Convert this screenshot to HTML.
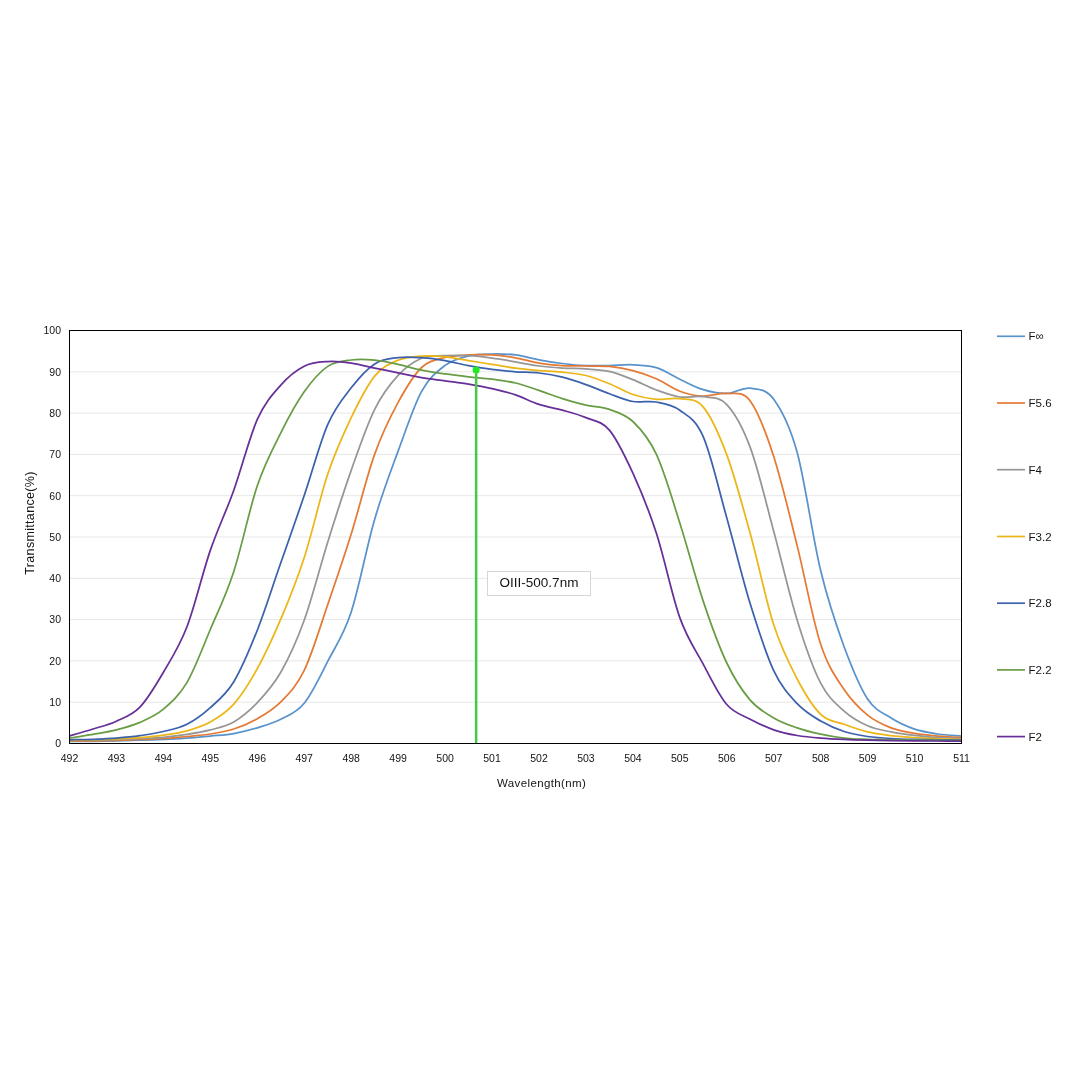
<!DOCTYPE html>
<html lang="en"><head><meta charset="utf-8"><title>OIII filter transmittance</title>
<style>html,body{margin:0;padding:0;background:#fff}body{width:1087px;height:1087px;overflow:hidden}svg{display:block;will-change:transform}text{font-family:"Liberation Sans",sans-serif;fill:#141414}</style></head><body>
<svg width="1087" height="1087" viewBox="0 0 1087 1087">
<defs><clipPath id="pc"><rect x="69.5" y="330.5" width="892.0" height="413.0"/></clipPath></defs>
<g stroke="#e7e7e7" stroke-width="1"><line x1="69.5" y1="702.2" x2="961.5" y2="702.2"/><line x1="69.5" y1="660.9" x2="961.5" y2="660.9"/><line x1="69.5" y1="619.6" x2="961.5" y2="619.6"/><line x1="69.5" y1="578.3" x2="961.5" y2="578.3"/><line x1="69.5" y1="537.0" x2="961.5" y2="537.0"/><line x1="69.5" y1="495.7" x2="961.5" y2="495.7"/><line x1="69.5" y1="454.4" x2="961.5" y2="454.4"/><line x1="69.5" y1="413.1" x2="961.5" y2="413.1"/><line x1="69.5" y1="371.8" x2="961.5" y2="371.8"/></g>
<g fill="none" stroke-width="1.75" stroke-linejoin="round" stroke-linecap="butt" clip-path="url(#pc)">
<path stroke="#5893cb" d="M69.5 741.4C73.4 741.4 85.1 741.4 93.0 741.3C100.8 741.2 108.6 741.0 116.4 740.8C124.3 740.6 132.1 740.4 139.9 740.1C147.7 739.9 155.6 739.7 163.4 739.4C171.2 739.0 179.0 738.7 186.9 738.1C194.7 737.6 202.5 736.8 210.3 736.1C218.2 735.3 226.0 735.0 233.8 733.6C241.6 732.2 249.5 730.2 257.3 727.8C265.1 725.4 272.9 723.4 280.8 719.3C288.6 715.2 296.4 712.9 304.2 703.2C312.1 693.6 319.9 676.7 327.7 661.4C335.5 646.2 343.4 635.6 351.2 611.9C359.0 588.2 366.8 546.0 374.7 519.2C382.5 492.4 390.3 472.4 398.1 451.1C406.0 429.8 413.8 405.6 421.6 391.3C429.4 377.0 437.3 371.3 445.1 365.4C452.9 359.5 460.7 357.8 468.6 355.9C476.4 354.0 484.2 354.2 492.0 354.0C499.9 353.9 507.7 353.9 515.5 354.9C523.3 355.8 531.1 358.4 539.0 359.8C546.8 361.3 554.6 362.6 562.4 363.5C570.3 364.5 578.1 365.3 585.9 365.6C593.7 365.9 601.6 365.7 609.4 365.6C617.2 365.5 625.0 364.4 632.9 364.8C640.7 365.1 648.5 365.3 656.3 367.7C664.2 370.1 672.0 375.5 679.8 379.2C687.6 382.9 695.5 387.4 703.3 389.7C711.1 392.1 718.9 393.7 726.8 393.4C734.6 393.2 742.4 387.3 750.2 388.2C758.1 389.2 765.9 388.5 773.7 399.3C781.5 410.0 789.4 424.0 797.2 452.6C805.0 481.2 812.8 538.5 820.7 570.8C828.5 603.2 836.3 625.3 844.1 646.7C852.0 668.0 859.8 687.2 867.6 699.0C875.4 710.9 883.3 713.0 891.1 718.0C898.9 723.0 906.7 726.4 914.6 729.1C922.4 731.7 930.2 732.8 938.0 734.0C945.9 735.2 957.6 735.7 961.5 736.1"/>
<path stroke="#e57a34" d="M69.5 741.0C73.4 741.0 85.1 741.0 93.0 740.8C100.8 740.7 108.6 740.5 116.4 740.3C124.3 740.1 132.1 739.8 139.9 739.5C147.7 739.2 155.6 739.1 163.4 738.5C171.2 738.0 179.0 737.2 186.9 736.5C194.7 735.7 202.5 735.2 210.3 734.0C218.2 732.8 226.0 731.6 233.8 729.0C241.6 726.5 249.5 723.3 257.3 718.8C265.1 714.3 272.9 710.0 280.8 701.9C288.6 693.8 296.4 686.5 304.2 670.4C312.1 654.2 319.9 627.5 327.7 604.7C335.5 582.0 343.4 559.2 351.2 534.1C359.0 508.9 366.8 476.1 374.7 454.1C382.5 432.2 390.3 416.8 398.1 402.4C406.0 387.9 413.8 374.9 421.6 367.5C429.4 360.0 437.3 359.6 445.1 357.5C452.9 355.4 460.7 355.3 468.6 354.9C476.4 354.4 484.2 354.4 492.0 354.9C499.9 355.4 507.7 356.4 515.5 357.8C523.3 359.1 531.1 361.8 539.0 363.1C546.8 364.4 554.6 365.1 562.4 365.6C570.3 366.1 578.1 365.9 585.9 366.0C593.7 366.2 601.6 365.7 609.4 366.4C617.2 367.2 625.0 368.5 632.9 370.6C640.7 372.6 648.5 375.4 656.3 378.8C664.2 382.3 672.0 388.3 679.8 391.2C687.6 394.1 695.5 395.8 703.3 396.1C711.1 396.5 718.9 392.6 726.8 393.4C734.6 394.3 742.4 390.5 750.2 401.0C758.1 411.5 765.9 432.4 773.7 456.5C781.5 480.7 789.4 514.6 797.2 545.9C805.0 577.2 812.8 620.4 820.7 644.3C828.5 668.2 836.3 677.7 844.1 689.5C852.0 701.3 859.8 708.7 867.6 715.1C875.4 721.5 883.3 724.8 891.1 727.9C898.9 730.9 906.7 732.0 914.6 733.4C922.4 734.7 930.2 735.4 938.0 736.1C945.9 736.8 957.6 737.3 961.5 737.5"/>
<path stroke="#969696" d="M69.5 740.6C73.4 740.6 85.1 740.5 93.0 740.4C100.8 740.2 108.6 740.0 116.4 739.7C124.3 739.4 132.1 739.0 139.9 738.6C147.7 738.2 155.6 738.0 163.4 737.3C171.2 736.6 179.0 735.7 186.9 734.4C194.7 733.2 202.5 731.9 210.3 729.9C218.2 727.8 226.0 726.5 233.8 722.0C241.6 717.4 249.5 710.9 257.3 702.7C265.1 694.4 272.9 686.0 280.8 672.3C288.6 658.5 296.4 642.0 304.2 620.3C312.1 598.6 319.9 567.2 327.7 542.2C335.5 517.2 343.4 492.5 351.2 470.4C359.0 448.2 366.8 425.1 374.7 409.3C382.5 393.5 390.3 383.9 398.1 375.4C406.0 366.9 413.8 361.6 421.6 358.3C429.4 355.0 437.3 356.2 445.1 355.7C452.9 355.3 460.7 355.3 468.6 355.7C476.4 356.1 484.2 357.1 492.0 358.2C499.9 359.2 507.7 360.6 515.5 361.9C523.3 363.2 531.1 365.0 539.0 366.0C546.8 367.1 554.6 367.6 562.4 368.1C570.3 368.6 578.1 368.4 585.9 368.9C593.7 369.5 601.6 369.6 609.4 371.4C617.2 373.2 625.0 376.5 632.9 379.6C640.7 382.7 648.5 387.1 656.3 390.0C664.2 392.9 672.0 395.8 679.8 397.0C687.6 398.1 695.5 395.5 703.3 396.7C711.1 398.0 718.9 396.2 726.8 404.6C734.6 413.0 742.4 426.3 750.2 447.4C758.1 468.5 765.9 502.4 773.7 531.2C781.5 560.0 789.4 594.9 797.2 620.2C805.0 645.5 812.8 668.0 820.7 683.2C828.5 698.3 836.3 703.9 844.1 711.1C852.0 718.2 859.8 722.3 867.6 725.8C875.4 729.3 883.3 730.3 891.1 731.9C898.9 733.5 906.7 734.5 914.6 735.4C922.4 736.4 930.2 737.0 938.0 737.5C945.9 738.0 957.6 738.4 961.5 738.5"/>
<path stroke="#ecb616" d="M69.5 740.2C73.4 740.1 85.1 740.1 93.0 739.9C100.8 739.6 108.6 739.3 116.4 739.0C124.3 738.6 132.1 738.3 139.9 737.7C147.7 737.1 155.6 736.4 163.4 735.2C171.2 734.1 179.0 733.0 186.9 730.8C194.7 728.6 202.5 726.5 210.3 722.0C218.2 717.6 226.0 713.0 233.8 704.2C241.6 695.3 249.5 682.9 257.3 668.7C265.1 654.6 272.9 637.7 280.8 619.2C288.6 600.7 296.4 581.8 304.2 557.7C312.1 533.5 319.9 497.6 327.7 474.3C335.5 450.9 343.4 434.1 351.2 417.7C359.0 401.4 366.8 385.7 374.7 376.1C382.5 366.5 390.3 363.5 398.1 360.2C406.0 356.9 413.8 356.7 421.6 356.1C429.4 355.6 437.3 356.2 445.1 356.9C452.9 357.7 460.7 359.4 468.6 360.6C476.4 361.9 484.2 363.1 492.0 364.4C499.9 365.6 507.7 367.1 515.5 368.1C523.3 369.1 531.1 369.9 539.0 370.6C546.8 371.2 554.6 371.4 562.4 372.2C570.3 373.0 578.1 373.6 585.9 375.5C593.7 377.4 601.6 380.6 609.4 383.8C617.2 386.9 625.0 391.9 632.9 394.5C640.7 397.1 648.5 398.7 656.3 399.4C664.2 400.1 672.0 397.4 679.8 398.7C687.6 399.9 695.5 397.7 703.3 407.1C711.1 416.4 718.9 433.8 726.8 454.9C734.6 476.0 742.4 505.2 750.2 533.5C758.1 561.9 765.9 600.6 773.7 624.8C781.5 649.1 789.4 664.1 797.2 679.0C805.0 693.9 812.8 706.8 820.7 714.3C828.5 721.9 836.3 721.4 844.1 724.3C852.0 727.3 859.8 730.0 867.6 731.9C875.4 733.8 883.3 734.7 891.1 735.7C898.9 736.6 906.7 737.0 914.6 737.5C922.4 738.0 930.2 738.4 938.0 738.8C945.9 739.1 957.6 739.3 961.5 739.4"/>
<path stroke="#3d62ad" d="M69.5 739.8C73.4 739.7 85.1 739.6 93.0 739.3C100.8 739.0 108.6 738.7 116.4 738.1C124.3 737.5 132.1 736.8 139.9 735.7C147.7 734.5 155.6 733.4 163.4 731.5C171.2 729.6 179.0 728.3 186.9 724.3C194.7 720.3 202.5 714.7 210.3 707.6C218.2 700.5 226.0 694.6 233.8 681.7C241.6 668.8 249.5 650.0 257.3 630.2C265.1 610.4 272.9 585.2 280.8 562.8C288.6 540.4 296.4 518.6 304.2 495.5C312.1 472.5 319.9 442.5 327.7 424.6C335.5 406.6 343.4 397.9 351.2 387.8C359.0 377.7 366.8 369.0 374.7 363.9C382.5 358.9 390.3 358.6 398.1 357.6C406.0 356.5 413.8 357.2 421.6 357.7C429.4 358.2 437.3 359.3 445.1 360.7C452.9 362.0 460.7 364.2 468.6 365.6C476.4 367.0 484.2 368.3 492.0 369.3C499.9 370.4 507.7 371.2 515.5 371.8C523.3 372.4 531.1 372.1 539.0 373.0C546.8 373.9 554.6 375.2 562.4 377.2C570.3 379.1 578.1 381.8 585.9 384.6C593.7 387.4 601.6 390.9 609.4 393.7C617.2 396.5 625.0 400.2 632.9 401.5C640.7 402.9 648.5 400.5 656.3 402.0C664.2 403.4 672.0 404.4 679.8 410.2C687.6 416.0 695.5 418.9 703.3 436.9C711.1 454.8 718.9 490.1 726.8 517.9C734.6 545.7 742.4 578.4 750.2 603.8C758.1 629.3 765.9 653.9 773.7 670.6C781.5 687.2 789.4 695.3 797.2 703.7C805.0 712.1 812.8 716.5 820.7 721.1C828.5 725.7 836.3 729.0 844.1 731.5C852.0 734.1 859.8 735.3 867.6 736.5C875.4 737.6 883.3 738.1 891.1 738.5C898.9 739.0 906.7 739.2 914.6 739.4C922.4 739.6 930.2 739.7 938.0 739.8C945.9 739.9 957.6 740.0 961.5 740.0"/>
<path stroke="#699d45" d="M69.5 738.1C73.4 737.5 85.1 735.8 93.0 734.4C100.8 733.0 108.6 731.9 116.4 729.9C124.3 727.9 132.1 725.9 139.9 722.4C147.7 719.0 155.6 715.8 163.4 709.2C171.2 702.5 179.0 695.9 186.9 682.6C194.7 669.4 202.5 648.1 210.3 629.5C218.2 611.0 226.0 595.4 233.8 571.4C241.6 547.4 249.5 508.8 257.3 485.7C265.1 462.6 272.9 448.5 280.8 432.9C288.6 417.2 296.4 402.8 304.2 391.8C312.1 380.7 319.9 371.7 327.7 366.4C335.5 361.1 343.4 361.0 351.2 360.0C359.0 359.0 366.8 359.4 374.7 360.2C382.5 360.9 390.3 362.8 398.1 364.4C406.0 366.1 413.8 368.6 421.6 370.1C429.4 371.7 437.3 372.8 445.1 373.9C452.9 375.0 460.7 375.9 468.6 376.8C476.4 377.7 484.2 378.2 492.0 379.2C499.9 380.3 507.7 381.1 515.5 383.0C523.3 384.8 531.1 387.8 539.0 390.4C546.8 393.0 554.6 396.2 562.4 398.6C570.3 401.1 578.1 403.4 585.9 405.2C593.7 407.0 601.6 406.6 609.4 409.4C617.2 412.1 625.0 414.1 632.9 421.5C640.7 429.0 648.5 437.3 656.3 454.2C664.2 471.1 672.0 498.3 679.8 522.9C687.6 547.4 695.5 578.1 703.3 601.4C711.1 624.8 718.9 646.5 726.8 663.0C734.6 679.4 742.4 691.0 750.2 700.1C758.1 709.3 765.9 713.3 773.7 717.9C781.5 722.5 789.4 725.2 797.2 727.9C805.0 730.7 812.8 732.5 820.7 734.2C828.5 735.9 836.3 737.3 844.1 738.1C852.0 739.0 859.8 739.1 867.6 739.4C875.4 739.7 883.3 739.7 891.1 739.9C898.9 740.0 906.7 740.1 914.6 740.2C922.4 740.3 930.2 740.4 938.0 740.4C945.9 740.5 957.6 740.6 961.5 740.6"/>
<path stroke="#672f98" d="M69.5 735.8C73.4 734.7 85.1 731.5 93.0 729.0C100.8 726.6 108.6 724.8 116.4 721.2C124.3 717.6 132.1 715.4 139.9 707.2C147.7 699.1 155.6 685.7 163.4 672.3C171.2 658.9 179.0 647.3 186.9 627.0C194.7 606.7 202.5 573.2 210.3 550.4C218.2 527.6 226.0 512.0 233.8 490.2C241.6 468.4 249.5 437.0 257.3 419.4C265.1 401.9 272.9 394.0 280.8 385.1C288.6 376.2 296.4 370.1 304.2 366.2C312.1 362.2 319.9 362.1 327.7 361.6C335.5 361.0 343.4 362.0 351.2 363.1C359.0 364.2 366.8 366.5 374.7 368.1C382.5 369.7 390.3 371.2 398.1 372.8C406.0 374.4 413.8 376.2 421.6 377.6C429.4 378.9 437.3 379.8 445.1 380.9C452.9 382.0 460.7 382.9 468.6 384.2C476.4 385.5 484.2 386.9 492.0 388.7C499.9 390.5 507.7 392.3 515.5 394.9C523.3 397.5 531.1 401.9 539.0 404.4C546.8 407.0 554.6 408.0 562.4 410.2C570.3 412.4 578.1 414.3 585.9 417.6C593.7 421.0 601.6 420.8 609.4 430.1C617.2 439.3 625.0 456.0 632.9 473.1C640.7 490.3 648.5 508.9 656.3 533.0C664.2 557.1 672.0 595.7 679.8 617.6C687.6 639.5 695.5 649.8 703.3 664.3C711.1 678.8 718.9 695.4 726.8 704.5C734.6 713.7 742.4 715.0 750.2 719.2C758.1 723.4 765.9 727.1 773.7 729.8C781.5 732.5 789.4 734.1 797.2 735.5C805.0 736.9 812.8 737.5 820.7 738.1C828.5 738.8 836.3 739.1 844.1 739.4C852.0 739.8 859.8 740.0 867.6 740.2C875.4 740.4 883.3 740.5 891.1 740.6C898.9 740.7 906.7 740.7 914.6 740.8C922.4 740.9 930.2 741.0 938.0 741.0C945.9 741.1 957.6 741.2 961.5 741.2"/>
</g>
<line x1="476.15" y1="370.1" x2="476.15" y2="743.5" stroke="#46c946" stroke-width="2.5"/>
<circle cx="476.15" cy="370.1" r="3.5" fill="#20ea20"/>
<rect x="69.5" y="330.5" width="892.0" height="413.0" fill="none" stroke="#000" stroke-width="1"/>
<rect x="487.5" y="571.5" width="103" height="24" fill="#fff" stroke="#d6d6d6" stroke-width="1"/>
<text x="539" y="587.4" font-size="13.5" text-anchor="middle">OIII-500.7nm</text>
<g font-size="10.5" text-anchor="end"><text x="61" y="747.3">0</text><text x="61" y="706.0">10</text><text x="61" y="664.7">20</text><text x="61" y="623.4">30</text><text x="61" y="582.1">40</text><text x="61" y="540.8">50</text><text x="61" y="499.5">60</text><text x="61" y="458.2">70</text><text x="61" y="416.9">80</text><text x="61" y="375.6">90</text><text x="61" y="334.3">100</text></g>
<g font-size="10.5" text-anchor="middle"><text x="69.5" y="762">492</text><text x="116.4" y="762">493</text><text x="163.4" y="762">494</text><text x="210.3" y="762">495</text><text x="257.3" y="762">496</text><text x="304.2" y="762">497</text><text x="351.2" y="762">498</text><text x="398.1" y="762">499</text><text x="445.1" y="762">500</text><text x="492.0" y="762">501</text><text x="539.0" y="762">502</text><text x="585.9" y="762">503</text><text x="632.9" y="762">504</text><text x="679.8" y="762">505</text><text x="726.8" y="762">506</text><text x="773.7" y="762">507</text><text x="820.7" y="762">508</text><text x="867.6" y="762">509</text><text x="914.6" y="762">510</text><text x="961.5" y="762">511</text></g>
<text x="541.6" y="786.7" font-size="11.5" text-anchor="middle" letter-spacing="0.38">Wavelength(nm)</text>
<text transform="translate(33.7 523) rotate(-90)" font-size="12.5" text-anchor="middle" letter-spacing="0.32">Transmittance(%)</text>
<g><line x1="997" y1="336.3" x2="1025" y2="336.3" stroke="#5893cb" stroke-width="1.7"/><text x="1028.6" y="340.4" font-size="11.5">F∞</text><line x1="997" y1="403.0" x2="1025" y2="403.0" stroke="#e57a34" stroke-width="1.7"/><text x="1028.6" y="407.1" font-size="11.5">F5.6</text><line x1="997" y1="469.7" x2="1025" y2="469.7" stroke="#969696" stroke-width="1.7"/><text x="1028.6" y="473.8" font-size="11.5">F4</text><line x1="997" y1="536.5" x2="1025" y2="536.5" stroke="#ecb616" stroke-width="1.7"/><text x="1028.6" y="540.6" font-size="11.5">F3.2</text><line x1="997" y1="603.2" x2="1025" y2="603.2" stroke="#3d62ad" stroke-width="1.7"/><text x="1028.6" y="607.3" font-size="11.5">F2.8</text><line x1="997" y1="669.9" x2="1025" y2="669.9" stroke="#699d45" stroke-width="1.7"/><text x="1028.6" y="674.0" font-size="11.5">F2.2</text><line x1="997" y1="736.6" x2="1025" y2="736.6" stroke="#672f98" stroke-width="1.7"/><text x="1028.6" y="740.7" font-size="11.5">F2</text></g>
</svg></body></html>
